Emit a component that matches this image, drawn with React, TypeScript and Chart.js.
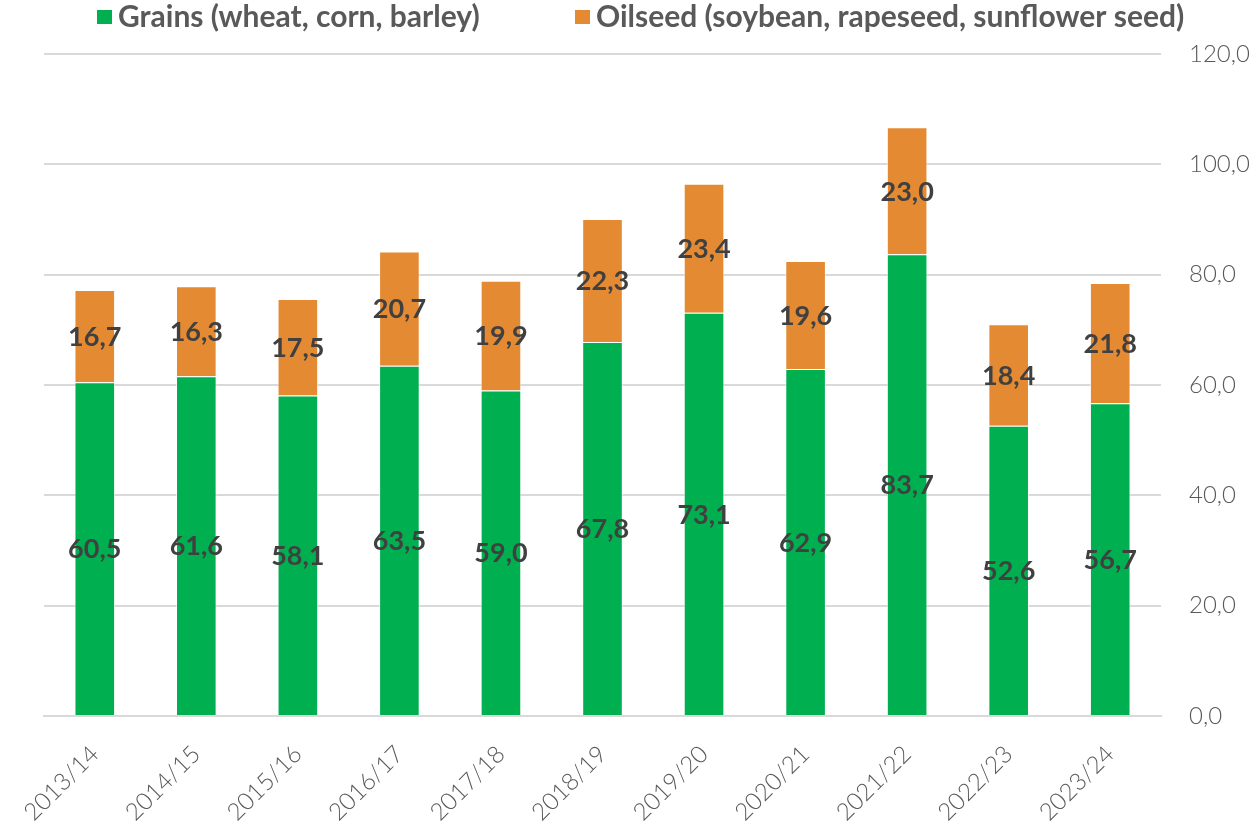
import React, { useEffect, useRef } from "react";
import { Chart, registerables } from "chart.js";

Chart.register(...registerables);

const categories = ["2013/14", "2014/15", "2015/16", "2016/17", "2017/18", "2018/19", "2019/20", "2020/21", "2021/22", "2022/23", "2023/24"];
const grains = [60.5, 61.6, 58.1, 63.5, 59.0, 67.8, 73.1, 62.9, 83.7, 52.6, 56.7];
const oilseed = [16.7, 16.3, 17.5, 20.7, 19.9, 22.3, 23.4, 19.6, 23.0, 18.4, 21.8];
const seriesNames = ["Grains (wheat, corn, barley)", "Oilseed (soybean, rapeseed, sunflower seed)"];
const yTicks = [0, 20, 40, 60, 80, 100, 120];

const GREEN = "#00B050";
const ORANGE = "#E38A33";
const FONT = "Lato, 'Open Sans', sans-serif";

const fmt = (v: number) => v.toFixed(1).replace(".", ",");

const labelPlugin = {
  id: "barLabels",
  afterDatasetsDraw(chart: any) {
    const ctx = chart.ctx;
    ctx.save();
    ctx.font = `bold 27px ${FONT}`;
    ctx.fillStyle = "#404040";
    ctx.textAlign = "center";
    ctx.textBaseline = "middle";
    chart.data.datasets.forEach((ds: any, di: number) => {
      const meta = chart.getDatasetMeta(di);
      meta.data.forEach((bar: any, i: number) => {
        const p = bar.getProps(["x", "y", "base"], true);
        ctx.fillText(fmt(ds.data[i]), p.x, (p.y + p.base) / 2 + 1);
      });
    });
    ctx.restore();
  },
};

const legendPlugin = {
  id: "customLegend",
  afterDraw(chart: any) {
    const ctx = chart.ctx;
    ctx.save();
    ctx.font = `bold 30px ${FONT}`;
    ctx.textBaseline = "alphabetic";
    const colors = [GREEN, ORANGE];
    const starts = [97, 575];
    seriesNames.forEach((name, i) => {
      ctx.fillStyle = colors[i];
      ctx.fillRect(starts[i], 10, 15, 14);
      ctx.fillStyle = "#595959";
      ctx.textAlign = "left";
      ctx.fillText(name, starts[i] + 21, 27);
    });
    ctx.restore();
  },
};

export default function App() {
  const ref = useRef<HTMLCanvasElement | null>(null);
  useEffect(() => {
    document.body.style.margin = "0";
    const chart = new Chart(ref.current!, {
      type: "bar",
      data: {
        labels: categories,
        datasets: [
          { label: seriesNames[0], data: grains, backgroundColor: GREEN, borderColor: "rgba(255,255,255,0.6)", borderWidth: 1, barPercentage: 0.4, categoryPercentage: 1 },
          { label: seriesNames[1], data: oilseed, backgroundColor: ORANGE, borderColor: "rgba(255,255,255,0.6)", borderWidth: 1, barPercentage: 0.4, categoryPercentage: 1 },
        ],
      },
      options: {
        animation: false,
        responsive: false,
        maintainAspectRatio: false,
        layout: { padding: { left: 44, top: 54, right: 0, bottom: 0 } },
        plugins: { legend: { display: false }, tooltip: { enabled: false } },
        scales: {
          x: {
            stacked: true,
            grid: { display: false, drawTicks: false },
            border: { display: true, color: "#D9D9D9", width: 2 },
            ticks: {
              maxRotation: 45,
              minRotation: 45,
              color: "#595959",
              font: { family: FONT, size: 24, weight: "300" },
              padding: 24,
            },
            afterFit(scale: any) {
              scale.height = 113;
              scale.paddingLeft = 0;
              scale.paddingRight = 0;
            },
          },
          y: {
            stacked: true,
            position: "right",
            min: 0,
            max: 120,
            afterBuildTicks(scale: any) {
              scale.ticks = yTicks.map((v) => ({ value: v }));
            },
            grid: { color: "#D9D9D9", lineWidth: 2, drawTicks: false },
            border: { display: false },
            ticks: {
              color: "#595959",
              font: { family: FONT, size: 24, weight: "300" },
              padding: 28,
              callback: (v: any) => fmt(Number(v)),
            },
            afterFit(scale: any) {
              scale.width = 93;
              scale.paddingTop = 0;
              scale.paddingBottom = 0;
            },
          },
        },
      },
      plugins: [labelPlugin, legendPlugin],
    } as any);
    return () => chart.destroy();
  }, []);
  return (
    <div style={{ width: 1254, height: 829 }}>
      <canvas ref={ref} width={1254} height={829} style={{ display: "block" }} />
    </div>
  );
}
